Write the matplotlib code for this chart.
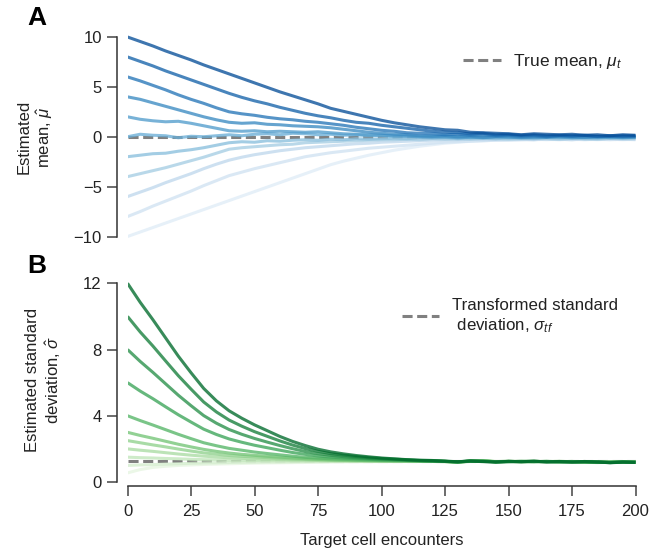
import numpy as np
import matplotlib
matplotlib.use("Agg")
import matplotlib.pyplot as plt

plt.rcParams["font.family"] = ["Liberation Sans", "DejaVu Sans"]
plt.rcParams["mathtext.fontset"] = "custom"
plt.rcParams["mathtext.rm"] = "Liberation Sans"
plt.rcParams["mathtext.it"] = "Liberation Sans:italic"

# encounter index at which the estimates were read off (every 5 encounters)
encounters = np.arange(0, 201, 5)

# ---- panel A: estimated mean, one list per starting value ----
mu_p10 = [10.0, 9.55, 9.1, 8.6, 8.15, 7.7, 7.2, 6.75, 6.3, 5.85, 5.4, 4.95, 4.5, 4.1, 3.7, 3.3, 2.85,
          2.55, 2.25, 1.95, 1.65, 1.4, 1.2, 1.0, 0.85, 0.7, 0.65, 0.45, 0.4, 0.35, 0.3, 0.2, 0.3,
          0.25, 0.2, 0.25, 0.15, 0.2, 0.1, 0.2, 0.15]
mu_p8 = [8.0, 7.55, 7.1, 6.6, 6.15, 5.7, 5.25, 4.8, 4.35, 3.95, 3.6, 3.3, 2.95, 2.65, 2.35, 2.1, 1.9,
         1.65, 1.45, 1.35, 1.15, 1.0, 0.85, 0.7, 0.55, 0.45, 0.4, 0.3, 0.35, 0.2, 0.25, 0.15, 0.2,
         0.1, 0.15, 0.1, 0.15, 0.05, 0.1, 0.05, 0.1]
mu_p6 = [6.0, 5.6, 5.15, 4.7, 4.2, 3.75, 3.35, 2.9, 2.5, 2.3, 2.15, 1.95, 1.8, 1.7, 1.55, 1.45, 1.3,
         1.15, 0.95, 0.8, 0.65, 0.55, 0.4, 0.35, 0.3, 0.2, 0.25, 0.15, 0.2, 0.1, 0.15, 0.05, 0.1,
         0.0, 0.1, 0.05, 0.1, 0.0, 0.05, 0.1, 0.05]
mu_p4 = [4.0, 3.75, 3.4, 3.05, 2.7, 2.35, 2.0, 1.7, 1.45, 1.35, 1.4, 1.25, 1.2, 1.1, 1.05, 1.0, 0.9,
         0.75, 0.6, 0.45, 0.35, 0.25, 0.2, 0.1, 0.05, 0.1, 0.0, 0.05, -0.05, 0.0, 0.05, -0.05, 0.0,
         -0.05, 0.05, 0.0, -0.05, 0.0, 0.05, -0.05, 0.0]
mu_p2 = [2.0, 1.75, 1.6, 1.5, 1.55, 1.35, 1.1, 0.85, 0.6, 0.55, 0.6, 0.5, 0.55, 0.5, 0.45, 0.5, 0.4,
         0.3, 0.25, 0.2, 0.15, 0.1, 0.05, 0.0, -0.05, 0.0, -0.1, -0.05, -0.1, 0.0, -0.05, -0.1, -0.05,
         0.0, -0.05, -0.1, -0.05, 0.0, -0.1, -0.05, -0.05]
mu_0 = [0.0, 0.25, 0.15, 0.1, -0.1, 0.05, 0.0, 0.1, 0.2, 0.1, 0.25, 0.3, 0.2, 0.35, 0.3, 0.2, 0.25,
        0.15, 0.2, 0.1, 0.15, 0.05, 0.1, 0.0, 0.05, -0.05, 0.0, -0.1, -0.05, 0.0, -0.1, -0.05, -0.1,
        -0.05, 0.0, -0.1, -0.05, -0.1, -0.05, -0.1, -0.05]
mu_m2 = [-2.0, -1.85, -1.7, -1.65, -1.45, -1.3, -1.1, -0.85, -0.6, -0.5, -0.55, -0.4, -0.45, -0.35,
         -0.3, -0.35, -0.25, -0.3, -0.2, -0.25, -0.2, -0.15, -0.2, -0.1, -0.15, -0.1, -0.2, -0.1,
         -0.15, -0.2, -0.1, -0.15, -0.2, -0.1, -0.15, -0.1, -0.2, -0.15, -0.1, -0.15, -0.1]
mu_m4 = [-4.0, -3.7, -3.4, -3.1, -2.75, -2.4, -2.05, -1.65, -1.25, -1.1, -1.0, -0.9, -0.8, -0.75,
         -0.6, -0.55, -0.5, -0.45, -0.4, -0.35, -0.3, -0.3, -0.25, -0.3, -0.2, -0.25, -0.2, -0.25,
         -0.15, -0.2, -0.25, -0.2, -0.15, -0.2, -0.25, -0.15, -0.2, -0.25, -0.15, -0.2, -0.2]
mu_m6 = [-6.0, -5.55, -5.1, -4.6, -4.15, -3.7, -3.2, -2.75, -2.35, -2.05, -1.8, -1.6, -1.4, -1.25,
         -1.1, -1.0, -0.9, -0.8, -0.7, -0.65, -0.55, -0.5, -0.45, -0.4, -0.35, -0.3, -0.3, -0.25,
         -0.3, -0.25, -0.2, -0.25, -0.3, -0.2, -0.25, -0.3, -0.2, -0.25, -0.2, -0.25, -0.2]
mu_m8 = [-8.0, -7.5, -6.95, -6.45, -5.95, -5.45, -4.9, -4.4, -3.9, -3.55, -3.2, -2.9, -2.6, -2.3,
         -2.0, -1.8, -1.6, -1.45, -1.3, -1.15, -1.05, -0.95, -0.85, -0.75, -0.65, -0.55, -0.5, -0.45,
         -0.4, -0.35, -0.35, -0.3, -0.3, -0.25, -0.3, -0.25, -0.3, -0.25, -0.3, -0.25, -0.3]
mu_m10 = [-10.0, -9.55, -9.1, -8.65, -8.2, -7.75, -7.3, -6.85, -6.4, -5.95, -5.5, -5.05, -4.6, -4.15,
          -3.7, -3.25, -2.8, -2.45, -2.15, -1.85, -1.6, -1.35, -1.15, -0.95, -0.8, -0.65, -0.55,
          -0.45, -0.4, -0.35, -0.3, -0.3, -0.25, -0.3, -0.25, -0.3, -0.25, -0.3, -0.25, -0.3, -0.25]
true_mean = 0.0

# ---- panel B: estimated standard deviation ----
sd_12 = [12.0, 10.85, 9.8, 8.7, 7.6, 6.6, 5.65, 4.9, 4.3, 3.85, 3.45, 3.1, 2.75, 2.45, 2.2, 1.98,
         1.82, 1.7, 1.6, 1.52, 1.45, 1.40, 1.35, 1.32, 1.30, 1.26, 1.22, 1.27, 1.24, 1.20, 1.25,
         1.22, 1.26, 1.21, 1.24, 1.20, 1.23, 1.21, 1.16, 1.20, 1.18]
sd_10 = [10.0, 9.06, 8.21, 7.31, 6.42, 5.61, 4.83, 4.23, 3.74, 3.37, 3.04, 2.76, 2.48, 2.23, 2.02,
         1.85, 1.71, 1.62, 1.54, 1.47, 1.42, 1.38, 1.34, 1.30, 1.28, 1.25, 1.23, 1.26, 1.23, 1.21,
         1.24, 1.23, 1.25, 1.22, 1.23, 1.21, 1.24, 1.20, 1.17, 1.21, 1.19]
sd_8 = [8.0, 7.28, 6.62, 5.93, 5.24, 4.61, 4.01, 3.55, 3.17, 2.88, 2.63, 2.41, 2.2, 2.01, 1.84, 1.71,
        1.61, 1.53, 1.47, 1.42, 1.38, 1.35, 1.32, 1.29, 1.27, 1.24, 1.21, 1.28, 1.25, 1.22, 1.23,
        1.24, 1.24, 1.23, 1.22, 1.22, 1.21, 1.22, 1.18, 1.20, 1.19]
sd_6 = [6.0, 5.49, 5.03, 4.54, 4.06, 3.62, 3.19, 2.87, 2.6, 2.4, 2.22, 2.07, 1.92, 1.78, 1.67, 1.57,
        1.5, 1.45, 1.41, 1.37, 1.34, 1.32, 1.30, 1.28, 1.26, 1.25, 1.20, 1.26, 1.26, 1.23, 1.22,
        1.25, 1.23, 1.24, 1.21, 1.23, 1.22, 1.19, 1.19, 1.21, 1.20]
sd_4 = [4.0, 3.71, 3.44, 3.16, 2.88, 2.62, 2.37, 2.19, 2.03, 1.92, 1.81, 1.72, 1.64, 1.56, 1.49,
        1.44, 1.4, 1.37, 1.34, 1.32, 1.3, 1.29, 1.28, 1.27, 1.26, 1.24, 1.22, 1.24, 1.27, 1.22,
        1.24, 1.23, 1.22, 1.25, 1.22, 1.24, 1.20, 1.20, 1.20, 1.22, 1.19]
sd_3 = [3.0, 2.81, 2.64, 2.46, 2.28, 2.12, 1.97, 1.85, 1.75, 1.67, 1.61, 1.55, 1.5, 1.45, 1.41,
        1.37, 1.34, 1.32, 1.31, 1.29, 1.28, 1.27, 1.27, 1.26, 1.25, 1.25, 1.21, 1.25, 1.28, 1.23,
        1.25, 1.22, 1.23, 1.24, 1.23, 1.22, 1.21, 1.18, 1.21, 1.21, 1.20]
sd_2p5 = [2.5, 2.37, 2.24, 2.12, 1.99, 1.87, 1.76, 1.68, 1.6, 1.55, 1.51, 1.47, 1.43, 1.39, 1.36,
          1.34, 1.32, 1.3, 1.29, 1.28, 1.27, 1.27, 1.26, 1.26, 1.24, 1.23, 1.20, 1.26, 1.27, 1.22,
          1.24, 1.23, 1.24, 1.23, 1.24, 1.23, 1.22, 1.19, 1.20, 1.22, 1.21]
sd_2 = [2.0, 1.92, 1.85, 1.77, 1.69, 1.62, 1.56, 1.51, 1.46, 1.43, 1.4, 1.38, 1.36, 1.33, 1.32,
        1.3, 1.29, 1.28, 1.27, 1.27, 1.26, 1.26, 1.26, 1.25, 1.25, 1.24, 1.19, 1.27, 1.26, 1.23,
        1.25, 1.24, 1.25, 1.22, 1.23, 1.24, 1.21, 1.20, 1.19, 1.21, 1.20]
sd_1p5 = [1.5, 1.47, 1.45, 1.42, 1.4, 1.37, 1.35, 1.34, 1.32, 1.31, 1.3, 1.29, 1.29, 1.28, 1.27,
          1.27, 1.26, 1.26, 1.26, 1.26, 1.26, 1.26, 1.25, 1.25, 1.24, 1.23, 1.18, 1.28, 1.29, 1.24,
          1.24, 1.25, 1.24, 1.23, 1.25, 1.22, 1.20, 1.17, 1.20, 1.22, 1.21]
sd_1 = [1.0, 1.03, 1.05, 1.08, 1.1, 1.13, 1.15, 1.16, 1.18, 1.19, 1.2, 1.21, 1.21, 1.22, 1.23,
        1.23, 1.24, 1.24, 1.24, 1.24, 1.25, 1.24, 1.25, 1.24, 1.25, 1.24, 1.19, 1.26, 1.28, 1.23,
        1.25, 1.23, 1.25, 1.24, 1.24, 1.23, 1.21, 1.18, 1.21, 1.21, 1.20]
sd_0p5 = [0.55, 0.75, 0.88, 0.95, 1.0, 1.03, 1.06, 1.08, 1.1, 1.12, 1.14, 1.15, 1.16, 1.17, 1.18,
          1.19, 1.2, 1.21, 1.22, 1.22, 1.23, 1.23, 1.24, 1.24, 1.25, 1.24, 1.20, 1.27, 1.30, 1.24,
          1.23, 1.24, 1.26, 1.23, 1.25, 1.24, 1.22, 1.19, 1.20, 1.22, 1.21]
sigma_tf = 1.25

x_ticks = [0, 25, 50, 75, 100, 125, 150, 175, 200]
mu_ticks = [-10, -5, 0, 5, 10]
sd_ticks = [0, 4, 8, 12]

# lightest first so darker lines sit on top
mean_runs = [mu_m10, mu_m8, mu_m6, mu_m4, mu_m2, mu_0, mu_p2, mu_p4, mu_p6, mu_p8, mu_p10]
sd_runs = [sd_0p5, sd_1, sd_1p5, sd_2, sd_2p5, sd_3, sd_4, sd_6, sd_8, sd_10, sd_12]

W, H = 651, 550
fig = plt.figure(figsize=(W / 100, H / 100), dpi=100)
axA = fig.add_axes([127.5 / W, 1 - 240.5 / H, 508 / W, 207.5 / H])
axB = fig.add_axes([127.5 / W, 1 - 482 / H, 508 / W, 203.7 / H])

dash = (0, (3.3, 1.5))
ink = "#222222"

blues = plt.cm.Blues(np.linspace(0.12, 0.88, len(mean_runs)))
for run, c in zip(mean_runs, blues):
    axA.plot(encounters, run, color=c, lw=2.2, alpha=0.78, zorder=2, solid_capstyle="butt")
hA = axA.axhline(true_mean, color="#808080", lw=2.2, ls=dash, zorder=1,
                 label=r"True mean, $\mu_t$")

greens = plt.cm.Greens(np.linspace(0.12, 0.88, len(sd_runs)))
for run, c in zip(sd_runs, greens):
    axB.plot(encounters, run, color=c, lw=2.2, alpha=0.78, zorder=2, solid_capstyle="butt")
hB = axB.axhline(sigma_tf, color="#808080", lw=2.2, ls=dash, zorder=1,
                 label="Transformed standard\n deviation, $\\sigma_{tf}$")

for ax in (axA, axB):
    ax.set_xlim(0, 200)
    for s in ("top", "right"):
        ax.spines[s].set_visible(False)
    ax.spines["left"].set_position(("outward", 7.5))
    ax.spines["left"].set_color("#333333")
    ax.spines["left"].set_linewidth(1.1)
    ax.tick_params(axis="both", direction="out", length=7, width=1.1, color="#444444",
                   labelsize=12, labelcolor=ink, pad=4)

axA.set_ylim(-10.4, 10.4)
axA.spines["left"].set_bounds(-10, 10)
axA.spines["bottom"].set_visible(False)
axA.set_yticks(mu_ticks)
axA.set_xticks([])
axA.set_ylabel("Estimated\n" + r"mean, $\hat{\mu}$", fontsize=12, color=ink)
axA.yaxis.set_label_coords(-0.143, 0.5)

axB.set_ylim(0, 12.3)
axB.spines["left"].set_bounds(0, 12)
axB.spines["bottom"].set_position(("outward", 3))
axB.spines["bottom"].set_color("#333333")
axB.spines["bottom"].set_linewidth(1.1)
axB.set_yticks(sd_ticks)
axB.set_xticks(x_ticks)
axB.tick_params(axis="x", pad=6)
axB.set_ylabel("Estimated standard\n" + r"deviation, $\hat{\sigma}$", fontsize=12, color=ink)
axB.yaxis.set_label_coords(-0.127, 0.5)
axB.set_xlabel("Target cell encounters", fontsize=12, color=ink, labelpad=10)

legA = axA.legend(handles=[hA], loc="upper left", bbox_to_anchor=(463 / W, 1 - 52 / H),
                  bbox_transform=fig.transFigure, frameon=False, fontsize=12.5,
                  handlelength=2.2, handletextpad=0.7, borderpad=0, borderaxespad=0)
legB = axB.legend(handles=[hB], loc="upper left", bbox_to_anchor=(402 / W, 1 - 298 / H),
                  bbox_transform=fig.transFigure, frameon=False, fontsize=12.2,
                  handlelength=2.2, handletextpad=0.75, borderpad=0, borderaxespad=0)
for leg in (legA, legB):
    for t in leg.get_texts():
        t.set_color(ink)

fig.text(27 / W, 1 - 6 / H, "A", fontsize=19, fontweight="bold", va="top", ha="left")
fig.text(27 / W, 1 - 254 / H, "B", fontsize=19, fontweight="bold", va="top", ha="left")

fig.savefig("out.png", dpi=100)
